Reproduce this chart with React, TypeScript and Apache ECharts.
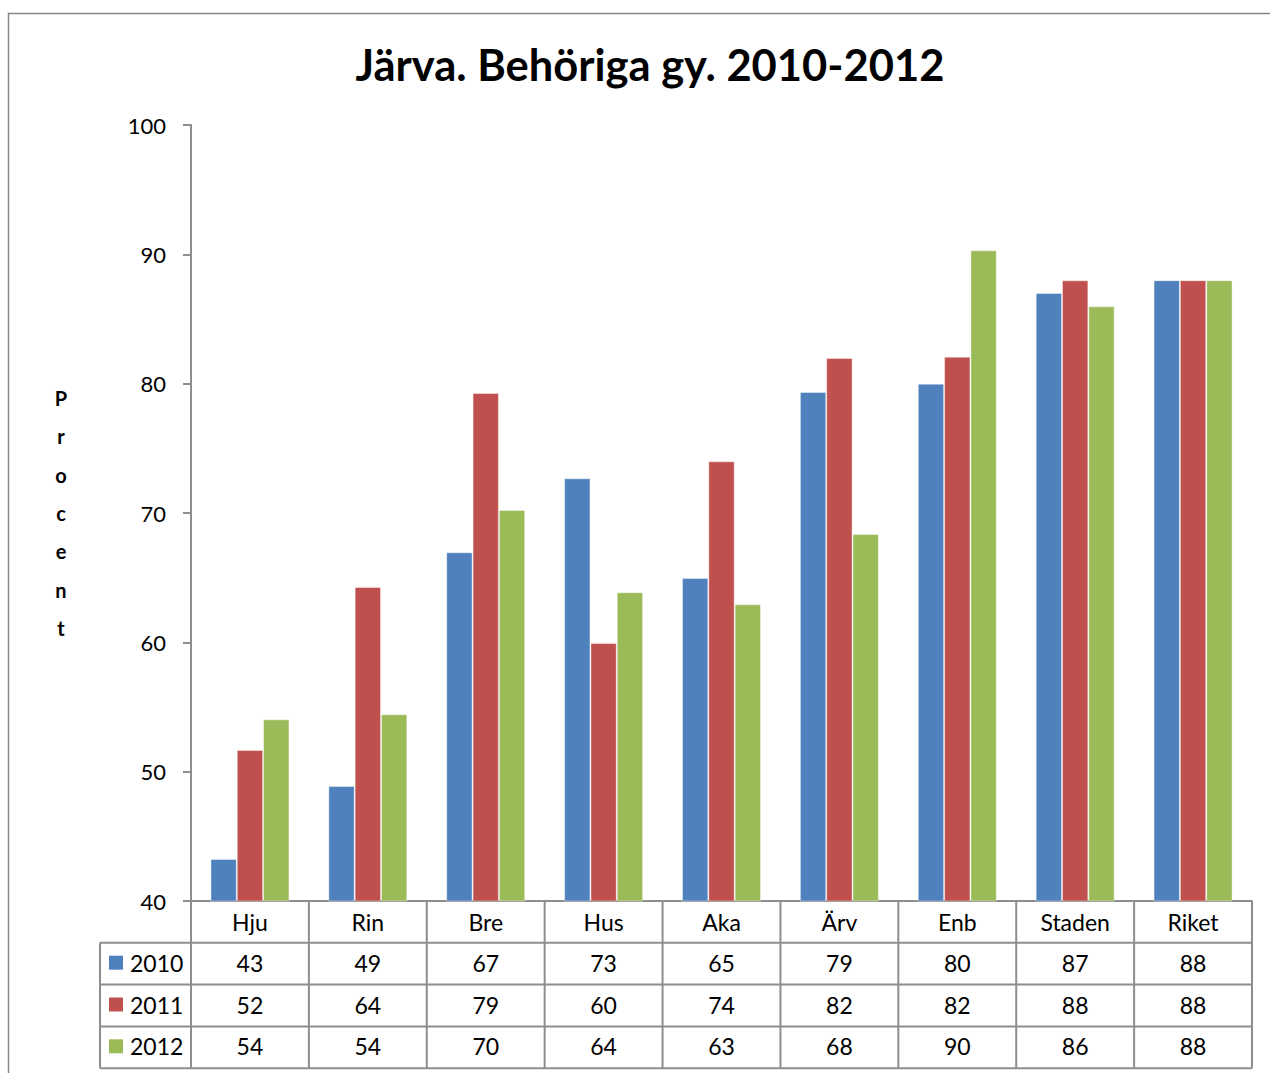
import React, { useEffect, useRef } from "react";
import * as echarts from "echarts";

const categories = ["Hju", "Rin", "Bre", "Hus", "Aka", "Ärv", "Enb", "Staden", "Riket"];
const years = ["2010", "2011", "2012"];
const values2010 = [43.25, 48.89, 66.96, 72.68, 64.97, 79.36, 80.0, 87.01, 88.0];
const values2011 = [51.68, 64.28, 79.28, 59.95, 74.0, 81.99, 82.09, 87.99, 88.0];
const values2012 = [54.05, 54.44, 70.23, 63.87, 62.94, 68.38, 90.31, 85.98, 88.0];
const seriesValues = [values2010, values2011, values2012];
const colors = ["#4F81BD", "#C0504D", "#9BBB59"];
const yTicks = { min: 40, max: 100, interval: 10 };
const title = "Järva. Behöriga gy. 2010-2012";
const yName = "Procent";

const FONT = "Lato, 'Open Sans', sans-serif";
const W = 1270;
const H = 1073;
const gridLeft = 191;
const gridRight = 1252;
const gridTop = 125;
const gridBottom = 901;
const rowH = 41.8;
const tableLeft = 100;
const lineColor = "#8E8E8E";
const tableFont = 23;

export default function App() {
  const ref = useRef<HTMLDivElement>(null);
  useEffect(() => {
    if (!ref.current) return;
    const chart = echarts.init(ref.current, null, { renderer: "svg" });
    const cw = (gridRight - gridLeft) / categories.length;
    const graphic: any[] = [];
    graphic.push({
      type: "rect",
      silent: true,
      z: -10,
      shape: { x: 8.5, y: 13.5, width: 1300, height: 1100 },
      style: { fill: "none", stroke: "#868686", lineWidth: 1.5 },
    });
    for (let r = 1; r <= 4; r++) {
      const y = gridBottom + r * rowH;
      graphic.push({
        type: "line",
        silent: true,
        shape: { x1: tableLeft, y1: y, x2: gridRight, y2: y },
        style: { stroke: lineColor, lineWidth: 2 },
      });
    }
    graphic.push({
      type: "line",
      silent: true,
      shape: { x1: tableLeft, y1: gridBottom + rowH, x2: tableLeft, y2: gridBottom + 4 * rowH },
      style: { stroke: lineColor, lineWidth: 2 },
    });
    for (let i = 0; i <= categories.length; i++) {
      const x = gridLeft + i * cw;
      graphic.push({
        type: "line",
        silent: true,
        shape: { x1: x, y1: gridBottom, x2: x, y2: gridBottom + 4 * rowH },
        style: { stroke: lineColor, lineWidth: 2 },
      });
    }
    years.forEach((yr, s) => {
      const cy = gridBottom + (s + 1.5) * rowH - 1;
      graphic.push({
        type: "rect",
        silent: true,
        shape: { x: 109, y: cy - 7, width: 14, height: 14 },
        style: { fill: colors[s] },
      });
      graphic.push({
        type: "text",
        silent: true,
        x: 130,
        y: cy,
        style: {
          text: yr,
          font: `${tableFont}px ${FONT}`,
          fill: "#000",
          textAlign: "left",
          textVerticalAlign: "middle",
        },
      });
      seriesValues[s].forEach((v, i) => {
        graphic.push({
          type: "text",
          silent: true,
          x: gridLeft + (i + 0.5) * cw,
          y: cy,
          style: {
            text: String(Math.round(v)),
            font: `${tableFont}px ${FONT}`,
            fill: "#000",
            textAlign: "center",
            textVerticalAlign: "middle",
          },
        });
      });
    });

    chart.setOption({
      animation: false,
      backgroundColor: "#fff",
      title: {
        text: title,
        left: 645,
        textAlign: "center",
        top: 37,
        textStyle: { fontFamily: FONT, fontWeight: "bold", fontSize: 43.5, color: "#000" },
      },
      grid: {
        left: gridLeft,
        right: W - gridRight,
        top: gridTop,
        bottom: H - gridBottom,
        containLabel: false,
      },
      xAxis: {
        type: "category",
        data: categories,
        axisLine: { show: true, lineStyle: { color: lineColor, width: 2 } },
        axisTick: { show: false },
        axisLabel: { margin: 9, fontFamily: FONT, fontSize: tableFont, color: "#000" },
        splitLine: { show: false },
      },
      yAxis: {
        type: "value",
        min: yTicks.min,
        max: yTicks.max,
        interval: yTicks.interval,
        name: yName.split("").join("\n"),
        nameLocation: "middle",
        nameRotate: 0,
        nameGap: 130,
        nameTextStyle: {
          fontFamily: FONT,
          fontWeight: "bold",
          fontSize: 20,
          lineHeight: 38.3,
          color: "#000",
          align: "center",
          verticalAlign: "middle",
          padding: [8, 0, 0, 0],
        },
        axisLine: { show: true, lineStyle: { color: lineColor, width: 2 } },
        axisTick: { show: true, length: 8, lineStyle: { color: lineColor, width: 2 } },
        axisLabel: { margin: 25, fontFamily: FONT, fontSize: 22, color: "#000" },
        splitLine: { show: false },
      },
      series: years.map((yr, s) => ({
        name: yr,
        type: "bar",
        data: seriesValues[s],
        barGap: "0%",
        barCategoryGap: "33%",
        itemStyle: { color: colors[s], borderColor: "rgba(255,255,255,0.4)", borderWidth: 1 },
      })),
      graphic,
    });
    return () => chart.dispose();
  }, []);
  return (
    <div
      ref={ref}
      style={{ position: "absolute", left: 0, top: 0, width: W, height: H }}
    />
  );
}
